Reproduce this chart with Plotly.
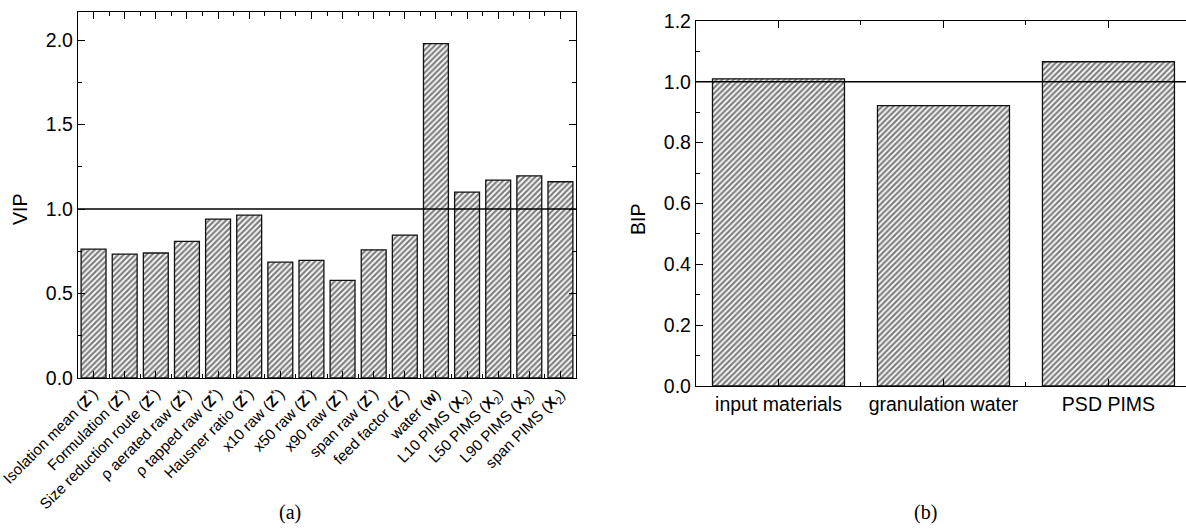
import plotly.graph_objects as go

W, H = 1186, 531

# ---- data ----
vip_labels = [
    "Isolation mean (<b>Z</b><sup>*</sup>)",
    "Formulation (<b>Z</b><sup>*</sup>)",
    "Size reduction route (<b>Z</b><sup>*</sup>)",
    "ρ aerated raw (<b>Z</b><sup>*</sup>)",
    "ρ tapped raw (<b>Z</b><sup>*</sup>)",
    "Hausner ratio (<b>Z</b><sup>*</sup>)",
    "x10 raw (<b>Z</b><sup>*</sup>)",
    "x50 raw (<b>Z</b><sup>*</sup>)",
    "x90 raw (<b>Z</b><sup>*</sup>)",
    "span raw (<b>Z</b><sup>*</sup>)",
    "feed factor (<b>Z</b><sup>*</sup>)",
    "water (<b>w</b>)",
    "L10 PIMS (<b>X</b><sub>2</sub>)",
    "L50 PIMS (<b>X</b><sub>2</sub>)",
    "L90 PIMS (<b>X</b><sub>2</sub>)",
    "span PIMS (<b>X</b><sub>2</sub>)",
]
vip_values = [0.763, 0.734, 0.740, 0.809, 0.941, 0.964, 0.686, 0.696,
              0.578, 0.759, 0.846, 1.980, 1.101, 1.172, 1.197, 1.162]

bip_labels = ["input materials", "granulation water", "PSD PIMS"]
bip_values = [1.010, 0.922, 1.066]

threshold = 1.0

# ---- styling ----
FONT = "Liberation Sans, Arial, sans-serif"
SERIF = "Liberation Serif, Times New Roman, serif"
hatch = dict(shape="/", fgcolor="#000000", bgcolor="white", size=4, solidity=0.55)
bar_marker = dict(color="white", line=dict(color="#111111", width=1.3), pattern=hatch)

vip_pos = list(range(len(vip_values)))
bip_pos = list(range(len(bip_values)))

fig = go.Figure()
fig.add_trace(go.Bar(x=vip_pos, y=vip_values, width=0.8, marker=bar_marker,
                     xaxis="x", yaxis="y", showlegend=False))
fig.add_trace(go.Bar(x=bip_pos, y=bip_values, width=0.8, marker=bar_marker,
                     xaxis="x2", yaxis="y2", showlegend=False))

def px_x(p):
    return p / W

def px_y(p):
    return 1 - p / H

axis_common = dict(showgrid=False, zeroline=False, showline=True, linecolor="black",
                   linewidth=1.3, ticks="inside", tickcolor="black", tickwidth=1.2,
                   automargin=False, ticklabeloverflow="allow")

fig.update_layout(
    width=W, height=H,
    margin=dict(l=0, r=0, t=0, b=0),
    paper_bgcolor="white", plot_bgcolor="white",
    font=dict(family=FONT, color="black"),
    bargap=0.2,
    xaxis=dict(
        **axis_common,
        domain=[px_x(78), px_x(576)], anchor="y",
        range=[-0.5, len(vip_values) - 0.5],
        tickmode="array", tickvals=vip_pos, ticktext=vip_labels,
        tickangle=-45, ticklen=7, mirror="ticks",
        tickfont=dict(size=15.2, family=FONT),
        minor=dict(tickmode="array", tickvals=[i + 0.5 for i in vip_pos[:-1]],
                   ticks="inside", ticklen=3.5, tickcolor="black"),
    ),
    yaxis=dict(
        **axis_common,
        domain=[px_y(378), px_y(12)], anchor="x",
        range=[0, 2.167], dtick=0.5, tickformat=".1f", ticklen=7, mirror="ticks",
        tickfont=dict(size=19.5, family=FONT),
        minor=dict(dtick=0.25, ticks="inside", ticklen=3.5, tickcolor="black"),
    ),
    xaxis2=dict(
        **axis_common,
        domain=[px_x(696), 1.0], anchor="y2",
        range=[-0.5, 2.47],
        tickmode="array", tickvals=bip_pos, ticktext=bip_labels,
        ticklen=7, mirror="ticks",
        tickfont=dict(size=19.5, family=FONT),
        minor=dict(tickmode="array", tickvals=[i + 0.5 for i in bip_pos[:-1]],
                   ticks="inside", ticklen=3.5, tickcolor="black"),
    ),
    yaxis2=dict(
        **axis_common,
        domain=[px_y(386), px_y(21)], anchor="x2",
        range=[0, 1.2], dtick=0.2, tickformat=".1f", ticklen=7, mirror=False,
        tickfont=dict(size=19.5, family=FONT),
        minor=dict(dtick=0.1, ticks="inside", ticklen=3.5, tickcolor="black"),
    ),
    yaxis3=dict(
        overlaying="y2", side="right", anchor="x2",
        range=[0, 1.2], dtick=0.2, showticklabels=False, showgrid=False,
        zeroline=False, showline=False, ticks="inside", ticklen=7,
        tickcolor="black", tickwidth=1.2,
        minor=dict(dtick=0.1, ticks="inside", ticklen=3.5, tickcolor="black"),
    ),
)

# reference lines at threshold
fig.add_shape(type="line", xref="x domain", yref="y", x0=0, x1=1, y0=threshold, y1=threshold,
              line=dict(color="black", width=1.5))
fig.add_shape(type="line", xref="x2 domain", yref="y2", x0=0, x1=1, y0=threshold, y1=threshold,
              line=dict(color="black", width=1.5))

# axis titles and captions
def label(text, x, y, size=19.5, family=FONT, angle=0):
    fig.add_annotation(text=text, x=px_x(x), y=px_y(y), xref="paper", yref="paper",
                       xanchor="center", yanchor="middle", textangle=angle,
                       showarrow=False, font=dict(size=size, family=family, color="black"))

label("VIP", 20, 210, angle=-90)
label("BIP", 638, 220, angle=-90)
label("(a)", 290, 512, size=20, family=SERIF)
label("(b)", 925, 512, size=20, family=SERIF)

fig.write_html("out.html")
